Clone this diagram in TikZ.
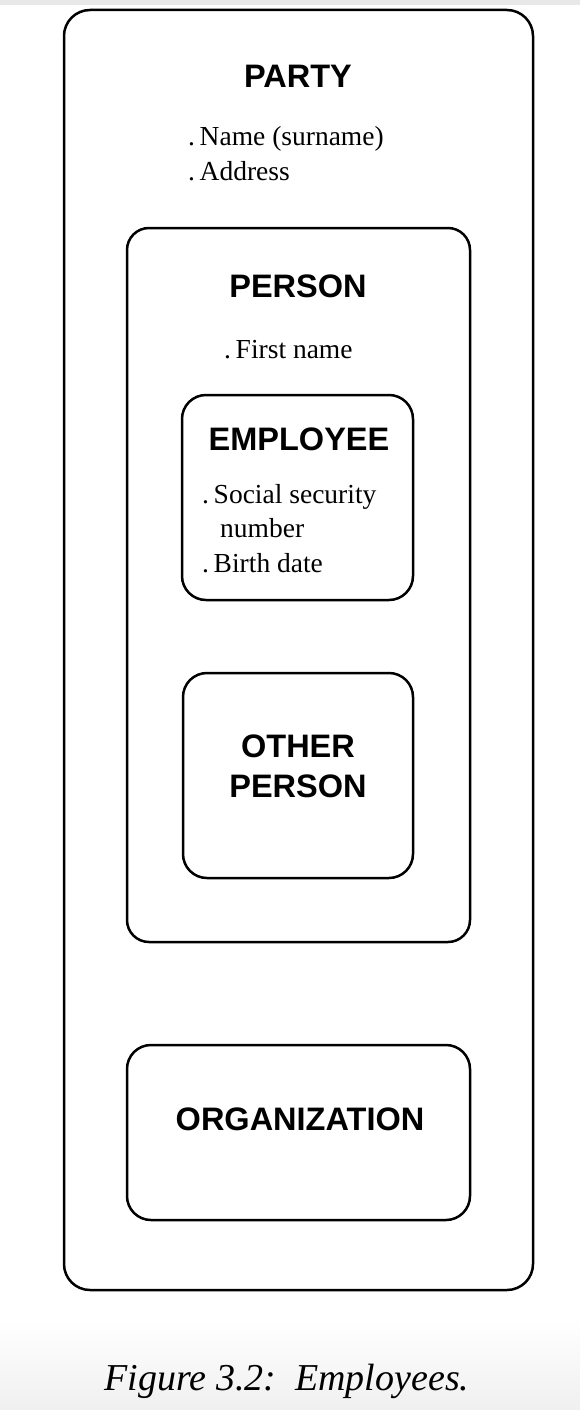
\documentclass[tikz,border=0pt]{standalone}
\usepackage{fontspec}
\setmainfont{Liberation Serif}
\newfontfamily\headfont{Liberation Sans}
\newcommand{\bul}{.\hspace{0.17em}}
\begin{document}
\begin{tikzpicture}[x=1pt,y=-1pt,
  box/.style={draw=black,line width=2.5pt,rounded corners=#1},
  box/.default=22pt,
  head/.style={font=\headfont\fontsize{32.5}{36}\selectfont\bfseries,inner sep=0pt},
  attr/.style={font=\fontsize{27.5}{30}\selectfont,inner sep=0pt,anchor=base west},
  caption/.style={font=\fontsize{38}{42}\selectfont\itshape,inner sep=0pt,anchor=base}]
  % page and its margins
  \useasboundingbox (0,0) rectangle (580,1410);
  \fill[white] (0,0) rectangle (580,1410);
  \fill[black!9] (0,0) rectangle (580,5);
  \shade[top color=white,bottom color=black!6] (0,1320) rectangle (580,1410);

  % nested entity boxes
  \draw[box=26pt] (64,10) rectangle (533,1290);
  \draw[box=22pt] (127,228) rectangle (470,942);
  \draw[box=24pt] (182,395) rectangle (413,600);
  \draw[box=24pt] (183,673) rectangle (413,878);
  \draw[box=24pt] (127,1045) rectangle (470,1220);

  % PARTY
  \node[head,anchor=base] (party) at (298,88) {PARTY};
  \node[attr] (pname) at (188,146) {\bul Name (surname)};
  \node[attr] (paddr) at (188,180) {\bul Address};

  % PERSON
  \node[head,anchor=base] (person) at (298,297) {PERSON};
  \node[attr] (first) at (224,358) {\bul First name};

  % EMPLOYEE
  \node[head,anchor=base] (emp) at (299,450) {EMPLOYEE};
  \node[attr] (ssn) at (202,503) {\bul Social security};
  \node[attr] (ssn2) at (220,537) {number};
  \node[attr] (birth) at (202,572) {\bul Birth date};

  % OTHER PERSON
  \node[head,anchor=base] (other1) at (298,757) {OTHER};
  \node[head,anchor=base] (other2) at (298,797) {PERSON};

  % ORGANIZATION
  \node[head,anchor=base] (org) at (300,1130) {ORGANIZATION};

  % caption
  \node[caption] (cap) at (287,1390) {Figure 3.2:\ \ Employees.};
\end{tikzpicture}
\end{document}
